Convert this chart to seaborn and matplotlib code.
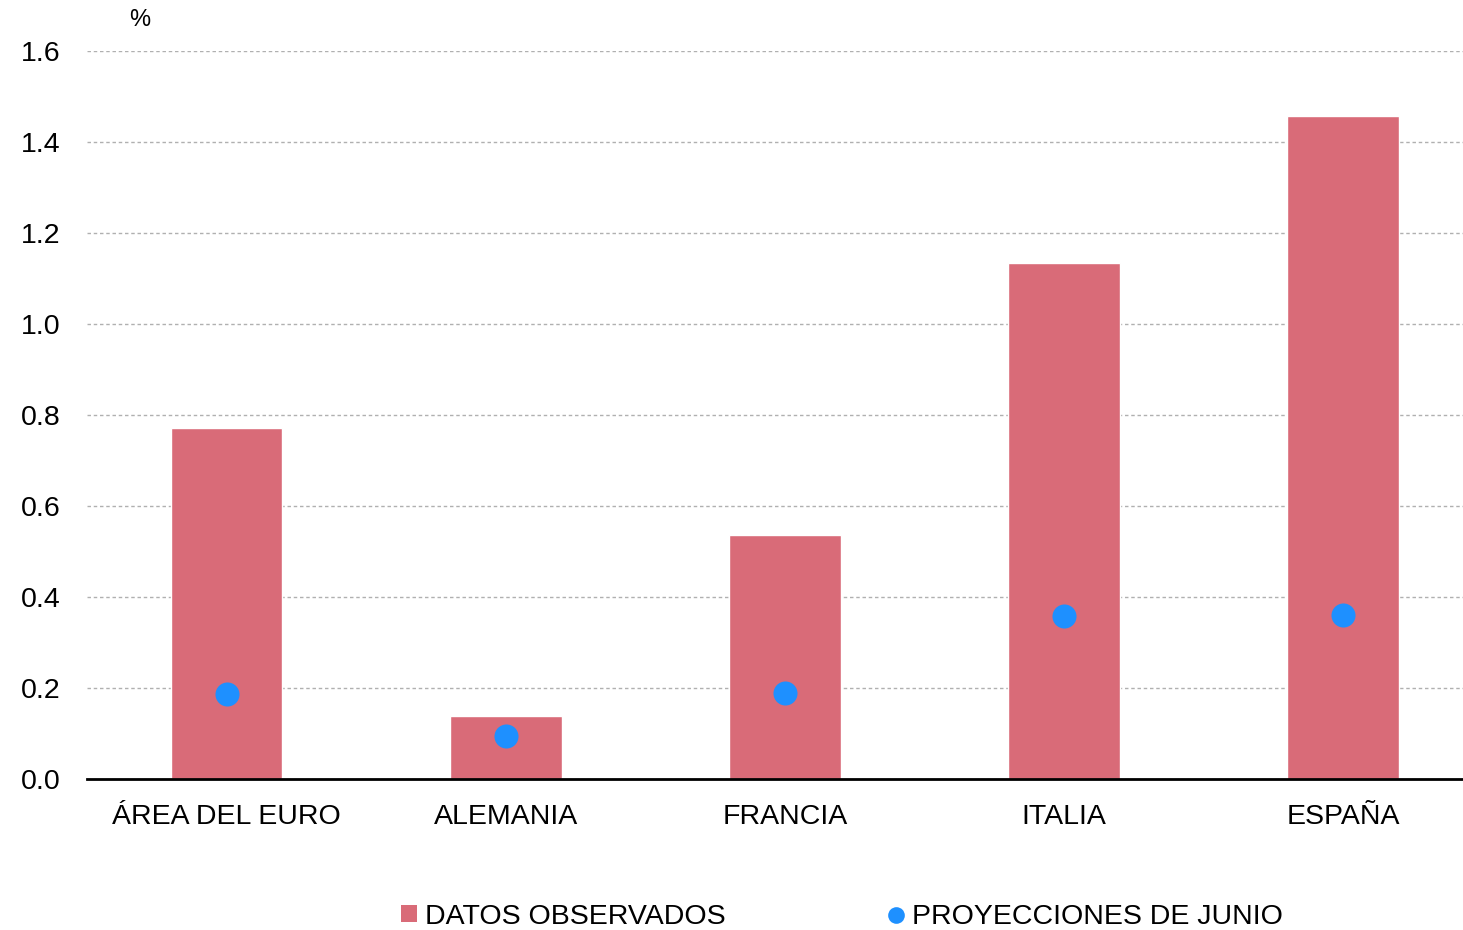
import matplotlib
matplotlib.use("Agg")
import matplotlib.pyplot as plt
import seaborn as sns
import pandas as pd
from matplotlib.patches import Patch
from matplotlib.lines import Line2D

categories = ["ÁREA DEL EURO", "ALEMANIA", "FRANCIA", "ITALIA", "ESPAÑA"]
observed = [0.771, 0.138, 0.536, 1.134, 1.457]
june_proj = [0.187, 0.094, 0.189, 0.358, 0.360]
yticks = [0.0, 0.2, 0.4, 0.6, 0.8, 1.0, 1.2, 1.4, 1.6]

bar_color = "#D96B78"
dot_color = "#1E90FF"

sns.set_style("white")
plt.rcParams["font.family"] = ["Liberation Sans", "DejaVu Sans"]
plt.rcParams["text.color"] = "black"

df = pd.DataFrame({"pais": categories, "obs": observed, "proj": june_proj})

fig = plt.figure(figsize=(14.63, 9.3), dpi=100)
ax = fig.add_axes([0.0595, 0.1624, 0.9405, 0.7828])

sns.barplot(data=df, x="pais", y="obs", color=bar_color, width=0.4,
            saturation=1, ax=ax, zorder=2)
sns.scatterplot(data=df, x="pais", y="proj", color=dot_color, s=300,
                linewidth=0, ax=ax, zorder=3)

ax.set_ylim(0, 1.6)
ax.set_xlim(-0.5, 4.43)
ax.set_yticks(yticks)
ax.set_yticklabels([f"{v:.1f}" for v in yticks])
ax.yaxis.grid(True, linestyle=(0, (2.5, 2)), color="#b0b0b0", linewidth=1)
ax.set_axisbelow(True)
ax.set_xlabel("")
ax.set_ylabel("")
for s in ["top", "right", "left"]:
    ax.spines[s].set_visible(False)
ax.spines["bottom"].set_color("black")
ax.spines["bottom"].set_linewidth(2)
ax.tick_params(axis="both", length=0, labelsize=20.5, colors="black")
ax.tick_params(axis="x", pad=18)
ax.tick_params(axis="y", pad=19)

fig.text(0.0955, 0.979, "%", fontsize=17, ha="center", va="center",
         color="black")

handles = [
    Patch(facecolor=bar_color, edgecolor="none"),
    Line2D([], [], marker="o", linestyle="none", markersize=12,
           markerfacecolor=dot_color, markeredgewidth=0),
]
fig.legend(handles, ["DATOS OBSERVADOS", "PROYECCIONES DE JUNIO"],
           loc="center", bbox_to_anchor=(0.5755, 0.014), ncol=2, frameon=False,
           fontsize=20.5, handlelength=0.55, handleheight=0.55, handletextpad=0.3,
           columnspacing=5.7, borderaxespad=0, labelcolor="black")

fig.savefig("out.png", dpi=100)
